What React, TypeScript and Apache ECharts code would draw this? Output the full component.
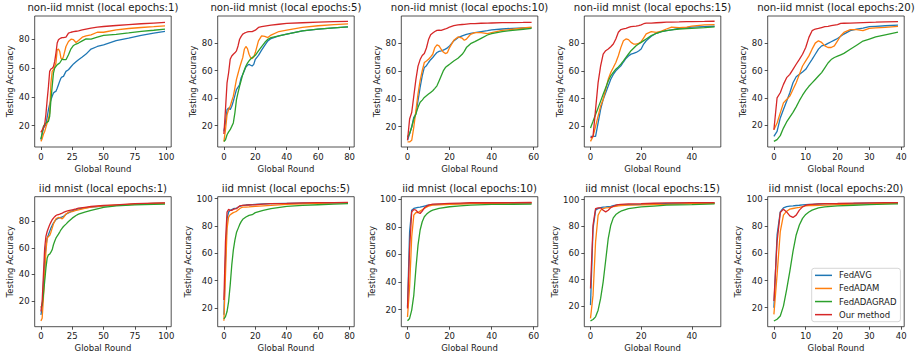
import React, { useEffect, useRef } from 'react';
import * as echarts from 'echarts';

const NAMES = ['FedAVG', 'FedADAM', 'FedADAGRAD', 'Our method'];
const COLORS = ['#1f77b4', '#ff7f0e', '#2ca02c', '#d62728'];

// ---------- non-iid, local epochs 1 ----------
const roundsN1 = [0,1,2,3,4,5,6,7,8,9,10,11,12,13,14,15,16,17,18,20,22,24,26,28,30,33,36,40,45,50,60,70,80,90,99];
const avgN1 = [10.3,14,18.4,19.5,20.7,26,31.1,35,38,40.5,42.7,43.5,43.9,46,48.5,51,53.1,54,54.3,57.8,58.9,61,63,64.5,65.9,67.8,69.8,73.3,75.1,76.3,79.1,80.9,82.8,84.4,85.6];
const adamN1 = [9.1,11,14,16,19,21.9,25,28.8,49.7,57.8,59,61,63.6,72.8,73.3,71.7,67,65.9,68.2,75.1,78.6,80.2,79.8,77.9,79.3,81.6,82.5,83.2,85,85,86.7,87.6,88.3,88.9,89.5];
const adagradN1 = [10.7,15,19.5,21,21.9,22.5,23,26.5,38,47.3,56.6,60,61.2,62.4,63,63.6,65,66.3,66,65.9,69.3,73.5,75.8,76.8,77.5,79,80.4,80.2,81.6,82.8,83.5,84.5,85.6,86.4,87.2];
const oursN1 = [15.4,17,18.5,20.7,28,38,47,57.8,59.4,60,61,64.7,70.5,77.5,79.8,80.5,81,81.2,81.3,81.6,84.4,85,85.4,85.7,86,86.6,87.2,87.9,88.5,89,89.7,90.3,90.9,91.4,91.8];

// ---------- non-iid, local epochs 5 ----------
const roundsN5 = [0,1,2,3,4,5,6,7,8,9,10,11,12,13,14,15,16,17,18,19,20,22,24,26,28,30,35,40,50,60,70,79];
const avgN5 = [15.9,22,31.7,33,31.7,34.1,37.8,42,46.3,48,50,54.9,57.3,60,62.7,64,64.6,64,63.4,64.6,68.3,71.2,75,78.5,81.7,83.4,85.4,86.6,89,90.2,91.2,91.9];
const adamN5 = [8.5,17,28,31.7,34.1,38,41.5,47.5,53.7,58,62.2,66,69.5,75.6,77.6,76.1,72,69.5,68.8,70,73.2,81.7,85.4,84.9,84.1,85.9,88.5,89.5,91.5,92.7,93.5,94.1];
const adagradN5 = [8.5,9.8,13.4,15.5,17.1,19.5,22,29.3,39,44,48.8,53,57.3,60.5,63.4,65.5,67.1,68.5,69.5,70.3,71.2,74.4,77.5,80.5,82.9,84.1,85.4,86.6,89,90.2,91.2,91.9];
const oursN5 = [14,31.7,51.2,58.5,68.3,70.7,72,73,74.4,78,82.9,85,86.6,87.3,87.8,88.2,88.5,88.5,88.5,89,89.5,91.5,92,92.4,92.8,93.2,93.8,94.4,94.9,95.4,95.7,95.9];

// ---------- non-iid, local epochs 10 ----------
const roundsN10 = [0,1,2,3,4,5,6,7,8,9,10,11,12,13,14,15,16,17,18,19,20,22,24,26,27,28,30,32,35,38,40,45,50,55,59];
const avgN10 = [10.3,15,19.8,26.8,29.2,38.7,48.2,56.5,62.5,63.7,66,68,69.6,71.5,73.2,74,74.4,74.9,75.6,76.5,77.9,81.5,83.8,85,85.6,86.2,86.9,87.4,88.1,88.8,89.3,90,90.5,90.8,91];
const adamN10 = [9.1,9.1,10.3,19.8,31.6,43.5,53.1,60.1,66,67.1,68.3,70,71.9,76.7,78.6,77.9,75.5,73.5,72.4,73.1,76.7,81.9,84.3,83.4,81.9,82.7,86.2,87.4,87.4,86.7,87.4,89,89.8,90.7,91.4];
const adagradN10 = [12.7,15.1,19.8,25.6,29.2,33.9,37.5,39.1,41,42.2,43.4,44.6,45.8,47.5,49.3,52.8,56.4,60,62.4,63.6,64.7,67.1,69,71.9,74,76.7,79.5,80.9,83.3,85.7,86.7,88.1,89,89.8,90.4];
const oursN10 = [10.3,25.5,30.2,42.1,53.9,63.4,68.1,71,72.4,76.4,82.4,85.9,87.1,88.2,89,89.1,89,89.5,90,90.6,91.4,92.4,92.9,93.2,93.3,93.5,93.8,93.9,94.1,94.2,94.3,94.5,94.6,94.7,94.8];

// ---------- non-iid, local epochs 15 ----------
const roundsN15 = [0,1,2,3,4,5,6,7,8,9,10,11,12,13,14,15,16,17,18,19,20,21,22,24,26,28,30,32,35,38,40,45,49];
const avgN15 = [12.7,12.7,12.7,22.4,32.2,39.4,44.3,49.1,54,57.5,60.1,62,63.7,66.5,69.1,70.8,72.2,72.8,73.4,74.5,75.9,79.5,81.9,85.1,87.3,88.5,89.2,89.8,90.9,91.4,91.7,92.1,92.4];
const adamN15 = [9.1,12.7,20,27.3,34.6,39.4,46.7,54,58.9,62.5,66.2,71,77.1,81.9,83.2,82.7,80.7,79.5,79.5,80,81.2,84,86.8,88.5,88,88.8,90.4,91.7,91.4,91.7,92.4,93.4,93.6];
const adagradN15 = [18.8,23.6,28.5,33.3,38.2,43.1,47.9,52.8,56.4,59,61.3,63,64.9,67.3,69.8,72.3,74.7,76.5,78.3,79.5,80.7,82,83.2,85.6,87.3,88.5,89.2,89.7,90.4,90.7,90.9,91.4,91.9];
const oursN15 = [11.5,12.7,32.2,51.6,63.7,72.2,74.7,75.9,77.6,79.5,83.2,88,90,90.5,90.9,91.5,92.1,92.3,92.4,92.8,93.4,94.2,94.6,94.7,94.9,95.1,95.3,95.4,95.5,95.7,95.8,95.9,96];

// ---------- non-iid, local epochs 20 ----------
const roundsN20 = [0,1,2,3,4,5,6,7,8,9,10,11,12,13,14,15,16,17,18,19,20,21,22,24,26,28,30,32,35,39];
const avgN20 = [11.9,15.6,25.4,31.5,37.6,43.8,51.1,55.5,57.2,58.9,60.9,64.6,68.2,71.9,75.6,78,78.5,79.8,81,82.2,83.4,85,86.6,89.1,90.3,91,92,92.3,92.7,93.2];
const adamN20 = [16.8,21.7,29.1,36.4,38.9,41.3,46.2,51.1,57.2,63.3,67,70.7,75.6,80,81.7,80.5,78,76.8,76.8,78,81.7,85.4,87.8,89.8,89.8,89.1,90.8,91.2,91.5,92.2];
const adagradN20 = [8.3,9.6,12.5,18,22.5,26,29.5,33.5,38,42,45.5,48.5,51,53.5,56,58.5,62,65.5,68,69.5,70.5,71.5,72.5,75.5,78.5,81.5,83,84.5,86,88];
const oursN20 = [16.8,40.1,43.8,49.9,54.8,57.2,60.9,64.6,68.2,71.9,76.8,84.2,89.1,90.3,90.8,91.4,92,92.3,92.7,93.1,93.5,94.4,94.5,94.6,94.8,95,95.2,95.3,95.5,95.7];

// ---------- iid, local epochs 1 ----------
const roundsI1 = [0,1,2,3,4,5,6,7,8,9,10,11,12,13,14,15,16,17,18,20,22,25,28,30,35,40,50,60,75,90,99];
const avgI1 = [9.5,14.5,32.2,49.8,61.1,67.4,69.9,72.5,75,77,78.7,80,81.3,82,82.5,82.8,83,83.4,83.8,85.5,86.5,88,89,89.5,90.2,90.8,91.6,92.2,93.1,93.7,93.9];
const adamI1 = [4.9,6.9,22,39.7,57.3,67.3,68.7,69.4,71.9,75,78,80.2,82,82.6,83,82.8,82.5,82,83,85.5,87,87.5,88.3,88.8,89.9,90.8,91.8,92.3,93.1,93.7,93.9];
const adagradI1 = [15,17,24.6,34.7,44.7,52.3,54.8,55.3,56.8,58.6,62.4,65,67.4,69,70.4,72,73.7,75,76.2,78,80,82.5,84.5,85.5,87,88.3,90.6,91.8,92.6,93,93.1];
const oursI1 = [12,19.5,39.7,59.8,68.7,72.4,75,77.5,79.5,81.3,82.5,83.6,84.5,84.9,85.2,85.5,85.9,86.3,86.8,87.6,88.1,88.8,89.5,90,90.7,91.3,92.1,92.6,93.4,93.9,94.1];

// ---------- iid, local epochs 5 ----------
const roundsI5 = [0,1,2,3,4,5,6,7,8,9,10,11,12,14,16,18,20,25,30,40,50,60,70,79];
const avgI5 = [14.9,56.2,85.4,90.3,91.5,92.1,92.7,93,93.2,93.8,94.4,94.8,95.1,95.4,95.6,95.7,95.9,96.2,96.4,96.6,96.7,96.8,97,97.1];
const adamI5 = [10.5,44,78.1,86.6,88.3,89.1,89.8,90.3,90.8,91.8,92.7,93.4,93.9,93.9,94,94.2,94.4,94.8,95.1,95.9,96.3,96.6,96.9,97.1];
const adagradI5 = [11.9,13.6,17.3,24.6,36.7,51.3,62.3,69.6,75.2,78.1,81,83.2,84.9,86.6,87.8,88.3,89.8,91.5,92.7,94.4,95.1,95.6,96,96.4];
const oursI5 = [25.8,68.4,90.3,92.2,91.5,91.5,92.2,92.5,92.7,93.8,94.7,95,95.1,95.3,95.4,95.5,95.6,96,96.4,96.6,96.9,97.1,97.2,97.3];

// ---------- iid, local epochs 10 ----------
const roundsI10 = [0,1,2,3,4,5,6,7,8,9,10,11,12,15,20,25,30,40,50,59];
const avgI10 = [22,76.5,92.2,93.5,93.9,94.2,94.4,94.8,95.2,95.6,95.9,96.1,96.2,96.4,96.6,96.9,97.1,97.2,97.3,97.3];
const adamI10 = [14.5,36.4,72.7,88.6,90.5,90.5,91.5,92.5,93.5,94.4,95.2,95.6,95.9,96.1,96.4,96.7,96.9,97.2,97.4,97.6];
const adagradI10 = [11.8,13.5,19.6,30.5,49.9,66.8,77.8,83.8,87.4,89.2,90.5,91.5,92.2,93.5,94.7,95.4,95.9,96.4,96.5,96.6];
const oursI10 = [20.7,64.4,91,92.7,92.2,90.5,89.8,91.5,93.9,95,95.9,96.3,96.6,96.8,97.1,97.4,97.6,97.6,97.7,97.8];

// ---------- iid, local epochs 15 ----------
const roundsI15 = [0,1,2,3,4,5,6,7,8,9,10,11,12,15,20,25,30,40,49];
const avgI15 = [20.8,78.3,92,93.3,94,94.3,94.5,94.8,95,95.4,95.8,96,96.1,96.3,96.5,96.8,97,97.2,97.3];
const adamI15 = [10.8,28.3,68.3,88.3,92,93.3,93.8,94,94.3,94.7,95,95.3,95.5,95.8,96,96.3,96.5,97,97.3];
const adagradI15 = [9,10,12,17,25.8,38.3,54.5,70.8,80.8,86.3,88.8,90.2,91.3,93.3,94.5,95.2,95.8,96.3,96.8];
const oursI15 = [33.3,80.8,93.3,93.8,93.8,92,90.8,92,94,95,95.8,96.2,96.5,96.8,97,97.3,97.5,97.7,97.8];

// ---------- iid, local epochs 20 ----------
const roundsI20 = [0,1,2,3,4,5,6,7,8,9,10,11,12,14,16,20,25,30,35,39];
const avgI20 = [20,73.7,90.7,93.7,94.6,94.9,95.1,95.4,95.6,95.9,96.1,96.2,96.3,96.5,96.6,96.8,96.9,97.1,97.2,97.3];
const adamI20 = [15.1,44.4,76.1,88.3,91.2,92.7,93.2,93.7,94.1,94.6,95.1,95.3,95.4,95.5,95.7,96.1,96.4,96.6,96.9,97.1];
const adagradI20 = [10.2,11.5,13.9,21.2,33.4,46.8,61.5,73.7,81,85.9,88.8,90.6,92,93.7,94.4,95.1,95.6,96.1,96.4,96.6];
const oursI20 = [24.9,68.8,90.2,92.7,90.7,87.8,86.6,88.3,92,94.4,95.6,96,96.3,96.6,96.8,96.9,97.1,97.3,97.5,97.6];

// tick labels
const xTicks100 = [0, 25, 50, 75, 100];
const xTicks80 = [0, 20, 40, 60, 80];
const xTicks60 = [0, 20, 40, 60];
const xTicks50 = [0, 20, 40];
const xTicks40 = [0, 10, 20, 30, 40];
const yTicksNonIid = [20, 40, 60, 80];
const yTicksIid1 = [20, 40, 60, 80];
const yTicksIid = [20, 40, 60, 80, 100];

const PANELS = [
  { title: 'non-iid mnist (local epochs:1)', rounds: roundsN1, lines: [avgN1, adamN1, adagradN1, oursN1], xTicks: xTicks100, yTicks: yTicksNonIid, yMin: 5.2, yMax: 96.3 },
  { title: 'non-iid mnist (local epochs:5)', rounds: roundsN5, lines: [avgN5, adamN5, adagradN5, oursN5], xTicks: xTicks80, yTicks: yTicksNonIid, yMin: 4.5, yMax: 99.8 },
  { title: 'non-iid mnist (local epochs:10)', rounds: roundsN10, lines: [avgN10, adamN10, adagradN10, oursN10], xTicks: xTicks60, yTicks: yTicksNonIid, yMin: 5.5, yMax: 99.3 },
  { title: 'non-iid mnist (local epochs:15)', rounds: roundsN15, lines: [avgN15, adamN15, adagradN15, oursN15], xTicks: xTicks50, yTicks: yTicksNonIid, yMin: 5, yMax: 99.8 },
  { title: 'non-iid mnist (local epochs:20)', rounds: roundsN20, lines: [avgN20, adamN20, adagradN20, oursN20], xTicks: xTicks40, yTicks: yTicksNonIid, yMin: 4.2, yMax: 99.8 },
  { title: 'iid mnist (local epochs:1)', rounds: roundsI1, lines: [avgI1, adamI1, adagradI1, oursI1], xTicks: xTicks100, yTicks: yTicksIid1, yMin: 0.5, yMax: 98.7 },
  { title: 'iid mnist (local epochs:5)', rounds: roundsI5, lines: [avgI5, adamI5, adagradI5, oursI5], xTicks: xTicks80, yTicks: yTicksIid, yMin: 6.2, yMax: 101.5 },
  { title: 'iid mnist (local epochs:10)', rounds: roundsI10, lines: [avgI10, adamI10, adagradI10, oursI10], xTicks: xTicks60, yTicks: yTicksIid, yMin: 7.5, yMax: 102 },
  { title: 'iid mnist (local epochs:15)', rounds: roundsI15, lines: [avgI15, adamI15, adagradI15, oursI15], xTicks: xTicks50, yTicks: yTicksIid, yMin: 4.6, yMax: 102.2 },
  { title: 'iid mnist (local epochs:20)', rounds: roundsI20, lines: [avgI20, adamI20, adagradI20, oursI20], xTicks: xTicks40, yTicks: yTicksIid, yMin: 6, yMax: 101.9 },
];

const GRID_LEFTS = [34.7, 217.7, 401.3, 584.3, 767.7];
const GRID_W = 136.5;
const ROW_TOPS = [16, 196.7];
const ROW_H = [131, 130];
const TITLE_Y = [7.5, 188.3];
const FONT = 'DejaVu Sans';
const TEXT = '#1a1a1a';
const SPINE = '#262626';

function buildOption() {
  const grid: any[] = [];
  const xAxis: any[] = [];
  const yAxis: any[] = [];
  const series: any[] = [];
  const graphic: any[] = [];

  PANELS.forEach((p, i) => {
    const row = i < 5 ? 0 : 1;
    const col = i % 5;
    const left = GRID_LEFTS[col];
    const last = p.rounds[p.rounds.length - 1];
    grid.push({
      left, top: ROW_TOPS[row], width: GRID_W, height: ROW_H[row],
      show: true, borderColor: SPINE, borderWidth: 0.8, backgroundColor: 'transparent',
      containLabel: false, outerBoundsMode: 'none',
    });
    xAxis.push({
      type: 'value', gridIndex: i, min: -0.05 * last, max: last * 1.05,
      name: 'Global Round', nameLocation: 'middle', nameGap: 17,
      nameTextStyle: { fontSize: 8.5, color: TEXT, fontFamily: FONT },
      axisLine: { show: false, onZero: false },
      axisTick: { show: true, length: 3, lineStyle: { color: SPINE, width: 0.8 }, customValues: p.xTicks },
      axisLabel: { customValues: p.xTicks, margin: 5, fontSize: 8.5, color: TEXT, fontFamily: FONT },
      splitLine: { show: false },
    });
    const yGap = row === 1 && col > 0 ? 24.5 : 20.3;
    yAxis.push({
      type: 'value', gridIndex: i, min: p.yMin, max: p.yMax,
      name: 'Testing Accuracy', nameLocation: 'middle', nameGap: yGap,
      nameTextStyle: { fontSize: 8.5, color: TEXT, fontFamily: FONT },
      axisLine: { show: false, onZero: false },
      axisTick: { show: true, length: 3, lineStyle: { color: SPINE, width: 0.8 }, customValues: p.yTicks },
      axisLabel: { customValues: p.yTicks, margin: 5, fontSize: 8.5, color: TEXT, fontFamily: FONT },
      splitLine: { show: false },
    });
    p.lines.forEach((vals, k) => {
      series.push({
        type: 'line', name: NAMES[k], xAxisIndex: i, yAxisIndex: i,
        data: p.rounds.map((r, j) => [r, vals[j]]),
        symbol: 'none', showSymbol: false, silent: true,
        lineStyle: { width: 1.3, color: COLORS[k] },
        itemStyle: { color: COLORS[k] },
        z: 2 + k,
      });
    });
    graphic.push({
      type: 'text', x: left + GRID_W / 2, y: TITLE_Y[row], silent: true,
      style: {
        text: p.title, fontSize: 10.2, fontFamily: FONT, fill: TEXT,
        align: 'center', verticalAlign: 'middle',
      },
    });
  });

  return {
    animation: false,
    backgroundColor: '#ffffff',
    grid, xAxis, yAxis, series, graphic,
    legend: {
      data: NAMES, orient: 'vertical', left: 811.7, top: 268.3,
      icon: 'rect', itemWidth: 17, itemHeight: 1.5, itemGap: 0,
      padding: [0.5, 4, 0.5, 3.3],
      borderColor: '#cccccc', borderWidth: 0.8, borderRadius: 2.5,
      backgroundColor: 'rgba(255,255,255,0.8)',
      selectedMode: false,
      textStyle: { fontSize: 8.5, lineHeight: 13.1, color: TEXT, fontFamily: FONT, padding: [0, 0, 0, 2] },
    },
  };
}

export default function App() {
  const ref = useRef<HTMLDivElement>(null);
  useEffect(() => {
    const chart = echarts.init(ref.current as HTMLDivElement, undefined, { renderer: 'svg' });
    chart.setOption(buildOption() as any);
    return () => chart.dispose();
  }, []);
  return (
    <div
      ref={ref}
      style={{ position: 'fixed', left: 0, top: 0, width: 923, height: 359, background: '#fff' }}
    />
  );
}
